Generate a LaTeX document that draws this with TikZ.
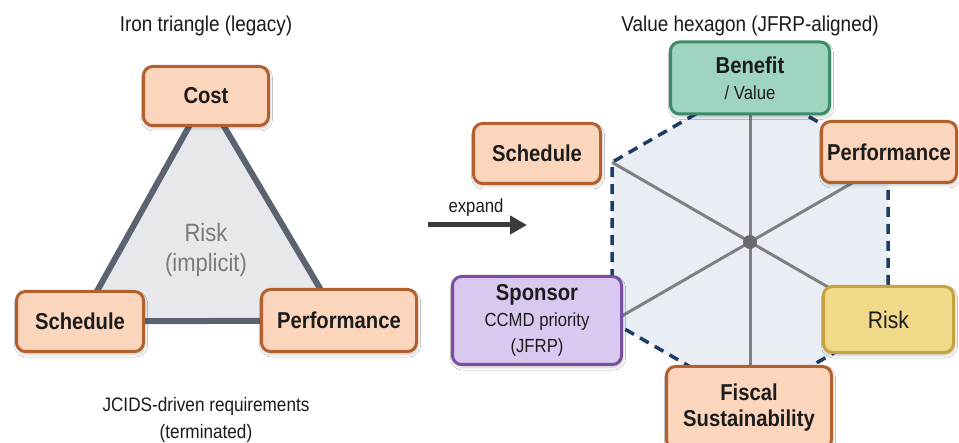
\documentclass[tikz,border=0pt]{standalone}
\usepackage{fontspec}
\setmainfont{Liberation Sans}[FakeStretch=0.88]
\usetikzlibrary{arrows.meta,shadows.blur}

\definecolor{orangefill}{HTML}{FCD5BD}
\definecolor{orangeline}{HTML}{B3602F}
\definecolor{greenfill}{HTML}{9FD4BE}
\definecolor{greenline}{HTML}{3C8C6C}
\definecolor{purplefill}{HTML}{D9C8F0}
\definecolor{purpleline}{HTML}{7B4EA6}
\definecolor{yellowfill}{HTML}{F1D98A}
\definecolor{yellowline}{HTML}{C6A33D}
\definecolor{labeltext}{HTML}{1C1C1C}
\definecolor{trifill}{HTML}{E7E8EB}
\definecolor{triline}{HTML}{5C6370}
\definecolor{hexfill}{HTML}{E9EEF5}
\definecolor{hexline}{HTML}{1D3D66}
\definecolor{spoke}{HTML}{808080}
\definecolor{hub}{HTML}{6A6A6A}
\definecolor{arrowgray}{HTML}{3B3B3B}
\definecolor{softtext}{HTML}{7A7A7A}
\definecolor{titletext}{HTML}{1A1A1A}

\begin{document}
\begin{tikzpicture}[x=1pt,y=-1pt,
  box/.style={draw, line width=3pt, rounded corners=9pt, align=center,
    inner sep=0pt, text=labeltext,
    font=\fontsize{19}{26}\selectfont,
    blur shadow={shadow xshift=1pt, shadow yshift=-2.5pt,
      shadow blur radius=3pt, shadow opacity=25}},
  orangebox/.style={box, fill=orangefill, draw=orangeline},
  greenbox/.style={box, fill=greenfill, draw=greenline},
  purplebox/.style={box, fill=purplefill, draw=purpleline},
  yellowbox/.style={box, fill=yellowfill, draw=yellowline},
  title/.style={text=titletext, font=\fontsize{21.5}{26}\selectfont},
  note/.style={text=titletext, align=center, font=\fontsize{19.5}{27}\selectfont},
]
\newcommand{\boxlabel}[1]{{\bfseries\fontsize{23}{26}\selectfont #1}}

% canvas
\fill[white] (0,0) rectangle (959,443);
\useasboundingbox (0,0) rectangle (959,443);

% ---------- iron triangle ----------
\node[title] (lefttitle) at (206,26) {Iron triangle (legacy)};

\coordinate (tc) at (206,96);
\coordinate (ts) at (80,321.5);
\coordinate (tp) at (339,320.5);
\filldraw[fill=trifill, draw=triline, line width=6pt, line join=round]
  (tc) -- (ts) -- (tp) -- cycle;
\node[text=softtext, align=center, font=\fontsize{25}{30}\selectfont]
  (implicit) at (206,250) {Risk\\(implicit)};

\node[orangebox, minimum width=125pt, minimum height=59pt] (cost) at (tc) {\boxlabel{Cost}};
\node[orangebox, minimum width=127pt, minimum height=60pt] (schedL) at (ts) {\boxlabel{Schedule}};
\node[orangebox, minimum width=155pt, minimum height=62pt] (perfL) at (tp) {\boxlabel{Performance}};

\node[note] (jcids) at (206,420) {JCIDS-driven requirements\\(terminated)};

% ---------- expand arrow ----------
\node[text=titletext, font=\fontsize{19}{24}\selectfont] (expand) at (476,208) {expand};
\coordinate (arrowstart) at (428,225);
\coordinate (arrowend) at (527,225);
\draw[draw=arrowgray, line width=5pt, -{Triangle[length=17pt,width=18pt]}]
  (arrowstart) -- (arrowend);

% ---------- value hexagon ----------
\node[title] (righttitle) at (750,26) {Value hexagon (JFRP-aligned)};

\coordinate (hc) at (750,242);
\coordinate (h1) at (750,82.7);
\coordinate (h2) at (888,162.3);
\coordinate (h3) at (888,321.7);
\coordinate (h4) at (750,401.3);
\coordinate (h5) at (612,321.7);
\coordinate (h6) at (612,162.3);

\fill[hexfill] (h1) -- (h2) -- (h3) -- (h4) -- (h5) -- (h6) -- cycle;
\draw[hexline, line width=3.5pt, dash pattern=on 10pt off 7pt]
  (h1) -- (h2) -- (h3) -- (h4) -- (h5) -- (h6) -- cycle;

\foreach \v in {h1,h2,h3,h4,h5,h6}
  \draw[spoke, line width=3pt] (hc) -- (\v);
\node[circle, fill=hub, minimum size=14pt, inner sep=0pt] (hub) at (hc) {};

\node[greenbox, minimum width=159pt, minimum height=72pt] (benefit) at (750,78)
  {\boxlabel{Benefit}\\/ Value};
\node[orangebox, minimum width=127pt, minimum height=60pt] (schedR) at (537,153.5)
  {\boxlabel{Schedule}};
\node[orangebox, minimum width=135pt, minimum height=61pt] (perfR) at (889,152)
  {\boxlabel{Performance}};
\node[purplebox, minimum width=169pt, minimum height=88pt] (sponsor) at (537,320.5)
  {\boxlabel{Sponsor}\\CCMD priority\\(JFRP)};
\node[yellowbox, minimum width=130pt, minimum height=66pt, font=\fontsize{24}{26}\selectfont]
  (risk) at (888.5,319.5) {Risk};
\node[orangebox, minimum width=165pt, minimum height=82pt] (fiscal) at (749,407.5)
  {\boxlabel{Fiscal}\\\boxlabel{Sustainability}};
\end{tikzpicture}
\end{document}
